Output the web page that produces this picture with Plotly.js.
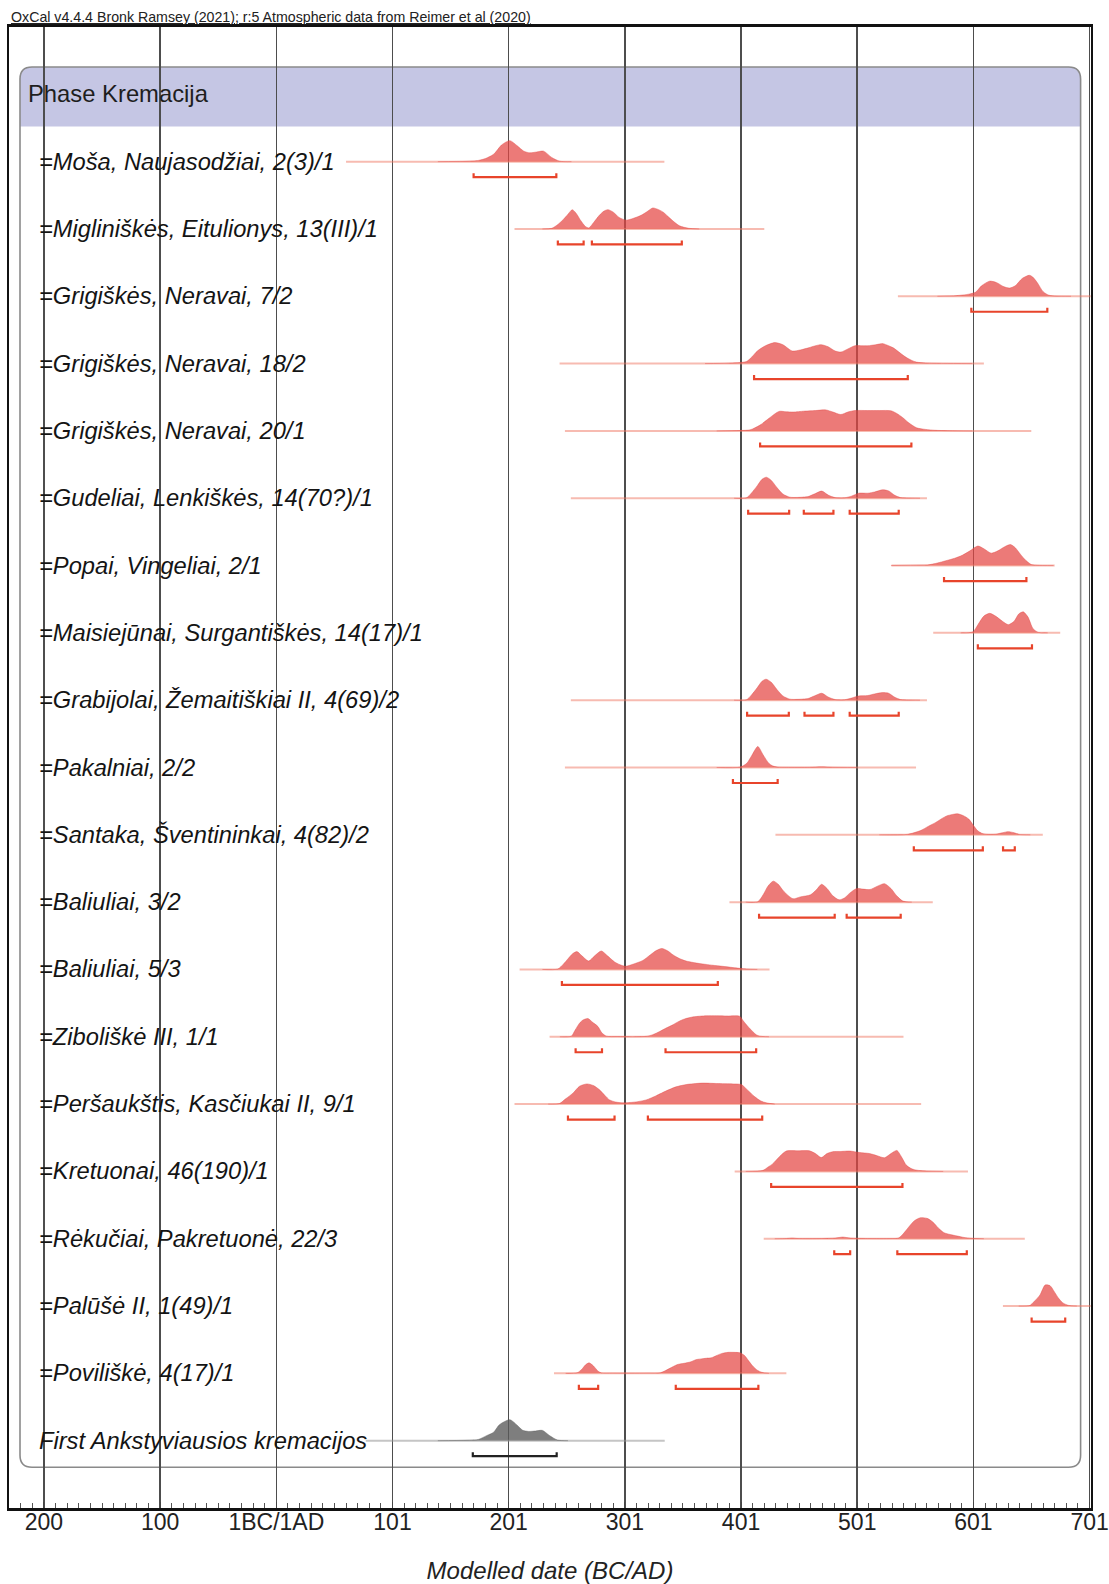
<!DOCTYPE html>
<html><head><meta charset="utf-8">
<script src="https://cdn.plot.ly/plotly-3.0.1.min.js"></script>
<style>html,body{margin:0;padding:0;background:#fff;}#chart{width:1109px;height:1584px;}</style>
</head><body><div id="chart"></div>
<script>
// ---------- DATA ----------
const labels = [
  "=Moša, Naujasodžiai, 2(3)/1",
  "=Migliniškės, Eitulionys, 13(III)/1",
  "=Grigiškės, Neravai, 7/2",
  "=Grigiškės, Neravai, 18/2",
  "=Grigiškės, Neravai, 20/1",
  "=Gudeliai, Lenkiškės, 14(70?)/1",
  "=Popai, Vingeliai, 2/1",
  "=Maisiejūnai, Surgantiškės, 14(17)/1",
  "=Grabijolai, Žemaitiškiai II, 4(69)/2",
  "=Pakalniai, 2/2",
  "=Santaka, Šventininkai, 4(82)/2",
  "=Baliuliai, 3/2",
  "=Baliuliai, 5/3",
  "=Ziboliškė III, 1/1",
  "=Peršaukštis, Kasčiukai II, 9/1",
  "=Kretuonai, 46(190)/1",
  "=Rėkučiai, Pakretuonė, 22/3",
  "=Palūšė II, 1(49)/1",
  "=Poviliškė, 4(17)/1",
  "First Ankstyviausios kremacijos"
];
const phaseName = "Phase Kremacija";
const caption = "OxCal v4.4.4 Bronk Ramsey (2021); r:5 Atmospheric data from Reimer et al (2020)";
const xTitle = "Modelled date (BC/AD)";
const tickVals = [-199, -99, 1, 101, 201, 301, 401, 501, 601, 701];
const tickText = ["200", "100", "1BC/1AD", "101", "201", "301", "401", "501", "601", "701"];

// extent of the thin baseline of each distribution (calendar years)
const lineStart = [61, 206, 536, 244.8, 249.4, 254.5, 530.5, 566.4, 254.5, 249.4, 430.6, 391, 210.4, 236.2, 206, 395.5, 420.5, 626.4, 240, 78];
const lineEnd   = [335, 421, 702, 610, 650.8, 561, 670.9, 675.7, 561, 551.6, 660.7, 566, 425.5, 540.8, 556, 596.3, 645.2, 702, 440, 335.3];

// probability curves: years and relative density (1 = maximum)
const curveYears = [
  [140,165,175,181,188,195,202,208,214,219,225,231,238,245,255],
  [230,238,243,248,252,255.7,259,263,267,270,274,279,283,286.4,291,296,302,308,315,320,325,330,334,338,342,348,356,365],
  [570,586,597,603,608,615,621,627,632,637,643,649,652,656,661,666,672,685],
  [370,390,405.6,410,415,422,430,437,445,452,459,465,470,476,482,487,493,499,505,510,517,523,528,532,538,543,548,552,560,575,600],
  [380,400,408.8,413,418,425,433.7,440,446,455,465,474,480,486.8,493,499,510,520,530,535,540,545,552,560,568,580,600],
  [395,405.6,410,415,419,422.8,427,432,437,443,450,458.7,464,470.5,476,482,490,496,502.3,510.2,516,522.7,528,533,538.3,545,555],
  [530,555,561.7,570,577.3,585,591.4,598,604.8,610,616.3,622,628,632.9,637,641.4,646,650.8,656,670],
  [590,600.6,605,610,615,620,626,631,636,640,643.9,648,652.3,657,665],
  [395,405.6,410,415,419,422.5,427,432,437,443,450,458.7,464,470.5,476,482,490,496,502,510,516,522.7,528,533,538.3,545,555],
  [380,400.3,405.9,410,415.4,420,424.9,428,432.5,440,460,470.3,480,500],
  [520,544,555.4,562,568.6,574,578,583,587.5,592,597,601,604.5,608,612,620,626,631,636,640.4,650],
  [405,415.4,420,424,428.7,433,438,445.7,452,460.8,466,470.3,475,480,485.4,490,495,500.6,506,511.9,518,524.4,530,535,540.3,548],
  [230,243.3,248,251.9,256,259.7,264,269.8,275,280.7,286,292.1,297,301.6,308,316.5,323,328,332.8,338,342.3,348,353.8,360,365.3,371,376.7,385,394,405.5,415],
  [245,254.9,258,262,265,269.2,273,277.8,281,285,295,319.4,325,330.9,336,342.3,347,352.4,360,371,380,390,399.7,403,406.9,411,414,417,425],
  [235,244.8,250,256.3,262,268.4,274,279.2,284,287.8,293,299.3,310,319.4,328,336.6,345,353.8,360,368.1,380,394,401.2,406,412.6,418,422.7,430],
  [405,419.8,424,428.4,434,439.9,450,459.9,465,470,475,480,487,494.4,503,511.6,518,524.5,530,535.1,539,543.2,547,550.3,555,560.4,575],
  [430,440,444.9,450,470,482,488.5,495,510,530,536.4,540,545.2,550,555.3,561.1,566,571,575.6,581,587.2,593,598.9,610],
  [640,649.6,653,658.3,662.7,667,671,674.3,678,683,690],
  [250,260,264,267,270.2,274,278,281,290,320,331.7,340,346.2,352,357.8,362,366.6,371,375.3,380,384,389.8,395,400,404,407.2,411,415,418.8,425],
  [140,165,175,182,188,193,202,208,213,218,224,230,236,243,252]
];
const curveDens = [
  [0,0.02,0.06,0.15,0.35,0.8,1.0,0.77,0.5,0.42,0.46,0.5,0.2,0.02,0],
  [0,0.03,0.2,0.45,0.7,0.92,0.75,0.4,0.12,0.05,0.3,0.65,0.85,0.92,0.8,0.55,0.42,0.5,0.65,0.82,1.0,0.92,0.8,0.6,0.4,0.15,0.03,0],
  [0,0.03,0.1,0.2,0.5,0.72,0.65,0.46,0.39,0.5,0.85,1.0,0.92,0.65,0.22,0.05,0.01,0],
  [0,0.02,0.1,0.3,0.6,0.85,1.0,0.9,0.6,0.65,0.75,0.85,0.9,0.8,0.6,0.55,0.7,0.85,0.85,0.85,0.9,0.95,0.85,0.75,0.5,0.3,0.15,0.07,0.03,0.01,0],
  [0,0.02,0.05,0.15,0.3,0.6,0.93,0.91,0.9,0.94,0.97,1.0,0.9,0.78,0.9,0.97,0.97,0.97,0.96,0.83,0.64,0.4,0.15,0.07,0.03,0.01,0],
  [0,0.02,0.25,0.6,0.9,1.0,0.85,0.5,0.2,0.05,0.04,0.08,0.2,0.34,0.15,0.03,0.02,0.1,0.24,0.24,0.3,0.4,0.35,0.15,0.03,0.01,0],
  [0,0.02,0.03,0.12,0.23,0.35,0.49,0.7,0.93,0.8,0.59,0.7,0.9,1.0,0.85,0.54,0.25,0.05,0.01,0],
  [0,0.05,0.4,0.8,0.93,0.8,0.55,0.39,0.55,0.9,1.0,0.75,0.2,0.02,0],
  [0,0.02,0.25,0.6,0.9,1.0,0.85,0.5,0.2,0.05,0.04,0.08,0.2,0.33,0.15,0.03,0.02,0.1,0.2,0.22,0.3,0.36,0.33,0.15,0.03,0.01,0],
  [0,0.02,0.2,0.55,1.0,0.6,0.2,0.08,0.02,0.01,0.01,0.03,0.01,0],
  [0,0.02,0.2,0.4,0.59,0.78,0.9,0.97,1.0,0.92,0.75,0.45,0.2,0.08,0.03,0.03,0.1,0.15,0.1,0.02,0],
  [0,0.02,0.35,0.75,1.0,0.85,0.5,0.16,0.25,0.35,0.6,0.85,0.65,0.3,0.11,0.2,0.45,0.65,0.62,0.6,0.75,0.88,0.65,0.3,0.05,0],
  [0,0.02,0.25,0.5,0.75,0.85,0.65,0.4,0.65,0.88,0.65,0.36,0.22,0.15,0.25,0.43,0.7,0.9,1.0,0.88,0.7,0.52,0.4,0.33,0.28,0.24,0.2,0.15,0.09,0.02,0],
  [0,0.03,0.3,0.65,0.8,0.87,0.7,0.49,0.2,0.03,0.01,0.02,0.1,0.25,0.4,0.57,0.72,0.85,0.95,1.0,1.0,0.99,0.98,0.75,0.49,0.25,0.1,0.03,0],
  [0,0.03,0.25,0.52,0.85,0.96,0.88,0.68,0.4,0.2,0.1,0.06,0.1,0.2,0.4,0.63,0.82,0.93,0.97,1.0,0.98,0.96,0.93,0.7,0.36,0.15,0.06,0],
  [0,0.05,0.2,0.37,0.7,0.97,0.98,0.98,0.85,0.66,0.85,0.94,0.95,0.97,0.9,0.85,0.75,0.65,0.85,1.0,0.7,0.3,0.15,0.08,0.04,0.02,0],
  [0,0.01,0.03,0.01,0.01,0.03,0.08,0.03,0.01,0.01,0.03,0.2,0.55,0.85,1.0,0.97,0.8,0.5,0.29,0.2,0.13,0.06,0.02,0],
  [0,0.03,0.2,0.53,1.0,0.97,0.65,0.37,0.15,0.03,0],
  [0,0.03,0.2,0.4,0.5,0.35,0.1,0.02,0.01,0.01,0.03,0.25,0.42,0.48,0.55,0.65,0.69,0.72,0.74,0.85,0.94,1.0,1.0,0.98,0.85,0.62,0.35,0.15,0.05,0],
  [0,0.02,0.06,0.24,0.4,0.76,1.0,0.75,0.5,0.44,0.46,0.49,0.25,0.03,0]
];

// highest posterior density ranges (start, end)
const hpdRanges = [
  [[170.8,242]],
  [[243.3,265.5],[272.6,350]],
  [[599.2,664.6]],
  [[412.2,544.5]],
  [[417.4,547.6]],
  [[407.1,442.4],[455,480.5],[494.5,536.7]],
  [[575.7,646.6]],
  [[604.8,651.4]],
  [[406.2,442.1],[455.6,480.5],[494.5,536.7]],
  [[394,432.5]],
  [[549.7,609.1],[626.5,636.6]],
  [[416.5,481.6],[491.9,538.4]],
  [[246.8,381]],
  [[258.6,281.3],[336,414]],
  [[252,292.1],[320.8,419.2]],
  [[426.9,539.9]],
  [[481.2,494.9],[535.5,595.3]],
  [[651.1,680]],
  [[261.4,278],[344.8,415.9]],
  [[170.1,242.3]]
];

// ---------- STYLE / LAYOUT ----------
const W = 1109, H = 1584;
const M = {l: 9, r: 18, t: 27, b: 76};
const plotW = W - M.l - M.r, plotH = H - M.t - M.b;
const ROW_PX = 67.33;
const PEAK = 21 / ROW_PX;       // peak height in row units
const HPD_OFF = 15.5 / ROW_PX;  // bracket offset below baseline
const HPD_TICK = 4 / ROW_PX;
const FONT = "Liberation Sans, Arial, Helvetica, sans-serif";

const traces = [];
labels.forEach((lab, i) => {
  const base = -i;
  const last = (i === labels.length - 1);
  const lineCol = last ? 'rgba(150,150,150,0.55)' : 'rgba(240,120,100,0.5)';
  const fillCol = last ? 'rgba(90,90,90,0.78)' : 'rgba(228,70,68,0.72)';
  const hpdCol = last ? '#222222' : '#e8442b';
  traces.push({
    x: [lineStart[i], lineEnd[i]], y: [base, base], mode: 'lines',
    line: {color: lineCol, width: 2}, hoverinfo: 'skip', showlegend: false
  });
  traces.push({
    x: curveYears[i], y: curveDens[i].map(d => base + d * PEAK),
    mode: 'lines', fill: 'tonexty', fillcolor: fillCol,
    line: {color: fillCol, width: 0.6, shape: 'spline', smoothing: 0.7},
    hoverinfo: 'skip', showlegend: false
  });
  const bx = [], by = [];
  hpdRanges[i].forEach(([s, e]) => {
    const yb = base - HPD_OFF;
    bx.push(s, s, e, e, null);
    by.push(yb + HPD_TICK, yb, yb, yb + HPD_TICK, null);
  });
  traces.push({
    x: bx, y: by, mode: 'lines', line: {color: hpdCol, width: 2.2},
    hoverinfo: 'skip', showlegend: false
  });
});

// pixel -> paper helpers for decorative box
const PX = p => (p - M.l) / plotW;
const PY = p => (H - M.b - p) / plotH;
const boxL = PX(20), boxR = PX(1080.6), boxT = PY(67), boxB = PY(1467.3), bandB = PY(126.5);
const rx = 12 / plotW, ry = 12 / plotH;
const boxPath = `M ${boxL+rx},${boxT} L ${boxR-rx},${boxT} Q ${boxR},${boxT} ${boxR},${boxT-ry} L ${boxR},${boxB+ry} Q ${boxR},${boxB} ${boxR-rx},${boxB} L ${boxL+rx},${boxB} Q ${boxL},${boxB} ${boxL},${boxB+ry} L ${boxL},${boxT-ry} Q ${boxL},${boxT} ${boxL+rx},${boxT} Z`;
const bandPath = `M ${boxL},${bandB} L ${boxL},${boxT-ry} Q ${boxL},${boxT} ${boxL+rx},${boxT} L ${boxR-rx},${boxT} Q ${boxR},${boxT} ${boxR},${boxT-ry} L ${boxR},${bandB} Z`;

const annotations = labels.map((lab, i) => ({
  text: lab, xref: 'paper', yref: 'y', x: PX(37), y: -i,
  xanchor: 'left', yanchor: 'middle', showarrow: false,
  font: {family: FONT, size: 23.7, color: '#141414', style: 'italic'}
}));
annotations.push({
  text: phaseName, xref: 'paper', yref: 'paper', x: PX(26), y: PY(94),
  xanchor: 'left', yanchor: 'middle', showarrow: false,
  font: {family: FONT, size: 23.8, color: '#1e1e1e'}
});
annotations.push({
  text: '<u>' + caption + '</u>', xref: 'paper', yref: 'paper', x: PX(10), y: PY(26),
  xanchor: 'left', yanchor: 'bottom', showarrow: false, borderpad: 0,
  font: {family: FONT, size: 14.2, color: '#222'}
});

const layout = {
  width: W, height: H, margin: M,
  paper_bgcolor: '#ffffff', plot_bgcolor: 'rgba(0,0,0,0)',
  showlegend: false,
  xaxis: {
    range: [-229.1, 702.2], tickmode: 'array', tickvals: tickVals, ticktext: tickText,
    showgrid: true, gridcolor: '#4d4d4d', gridwidth: 1.5, zeroline: false,
    showline: true, linecolor: '#111', linewidth: 2.6, mirror: true,
    ticks: 'inside', ticklen: 6, tickwidth: 1, tickcolor: '#444',
    ticklabelstandoff: -8,
    minor: {tickmode: 'linear', tick0: 1, dtick: 10, ticks: 'inside', ticklen: 5, tickwidth: 1, tickcolor: '#555', showgrid: false},
    tickfont: {family: FONT, size: 23, color: '#222'},
    title: {text: xTitle, standoff: 28, font: {family: FONT, size: 24, color: '#222', style: 'italic'}},
    fixedrange: true
  },
  yaxis: {
    range: [-20.0, 2.0], showgrid: false, zeroline: false, showticklabels: false,
    showline: true, linecolor: '#111', linewidth: 2.2, mirror: true, ticks: '',
    fixedrange: true
  },
  shapes: [
    {type: 'path', xref: 'paper', yref: 'paper', path: bandPath, fillcolor: '#c5c6e4', line: {width: 0}, layer: 'below'},
    {type: 'path', xref: 'paper', yref: 'paper', path: boxPath, fillcolor: 'rgba(0,0,0,0)', line: {color: '#8a8a8a', width: 1.6}, layer: 'below'}
  ],
  annotations: annotations
};

Plotly.newPlot('chart', traces, layout, {displayModeBar: false, staticPlot: true});
</script>
</body></html>
